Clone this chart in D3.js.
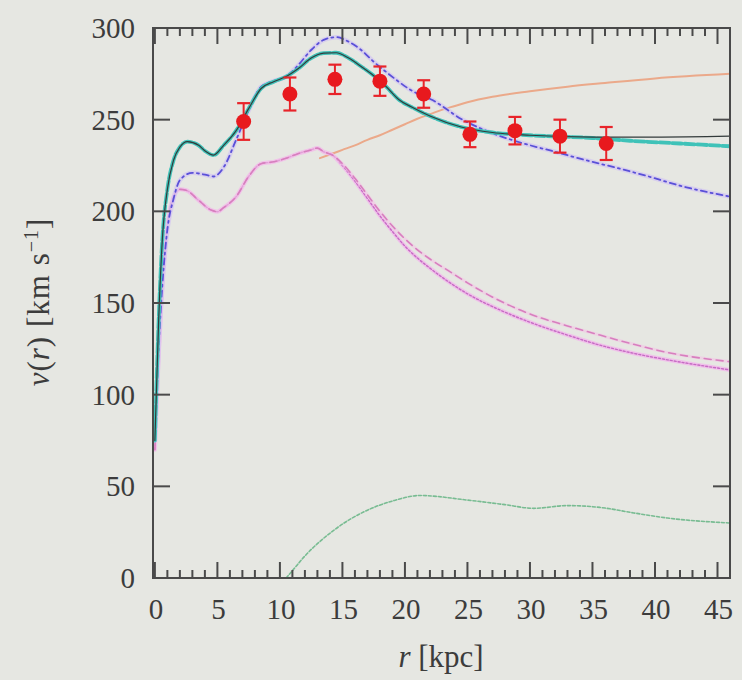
<!DOCTYPE html>
<html>
<head>
<meta charset="utf-8">
<script src="https://cdn.jsdelivr.net/npm/d3@7"></script>
<style>
  html, body { margin: 0; padding: 0; background: #e6e7e2; }
  svg { display: block; }
</style>
</head>
<body>
<svg id="chart" width="742" height="680"></svg>
<script>
// Rotation curve: model components and measured circular velocities.

// total model
const totalR = [0, 0.3, 0.6, 1, 1.5, 2, 2.6, 3.5, 4, 4.7, 5.5, 6.5, 7.5, 8.5, 9.5, 10.5, 11.5, 12.5, 13.5, 14.5, 15.5, 16.5, 17.5, 18.5, 19.5, 20.5, 22, 24.5, 27, 30, 35, 40, 46];
const totalV = [75, 140, 185, 212, 228, 235, 238, 236, 233, 230.7, 236, 244, 256, 267, 270.7, 273.5, 278, 283.6, 286.3, 286.5, 283.6, 279, 274, 268, 261, 257, 252, 246, 243, 241.5, 240.5, 240.5, 241];

// alternative fit (dashed cyan)
const fitR = [0, 0.3, 0.6, 1, 1.5, 2, 2.6, 3.5, 4, 4.7, 5.5, 6.5, 7.5, 8.5, 9.5, 10.5, 11.5, 12.5, 13.5, 14.5, 15.5, 16.5, 17.5, 18.5, 19.5, 20.5, 22, 24.5, 27, 30, 35, 38, 42, 46];
const fitV = [75, 140, 185, 212, 228, 235, 238, 236, 233, 230.7, 236, 244, 256, 267, 270.7, 273.5, 278, 283.6, 286.3, 286.5, 283.6, 279, 274, 268, 261, 257, 252, 246, 243, 241.5, 240, 238.5, 237, 235.5];

// blue dash-dot model
const blueR = [0, 0.3, 0.6, 1, 1.5, 2, 3, 4, 4.7, 5.5, 6.5, 7.5, 8.5, 9.5, 10.5, 11.5, 12.5, 13.5, 14.5, 15.5, 16.5, 17.5, 18.5, 19.5, 20.5, 22.2, 24.6, 27, 29.5, 32, 34.4, 37, 39.5, 42, 46];
const blueV = [75, 125, 160, 190, 207, 217, 221, 220, 219, 224, 239, 255, 268, 271, 273.5, 280, 288, 293.5, 295, 292.5, 288, 281.6, 276, 270.7, 266, 260.7, 250, 242.6, 237, 232.5, 228, 223.6, 219, 214, 208];

// baryonic components (magenta)
const baryR = [0, 0.3, 0.6, 1, 1.5, 2, 2.5, 3.5, 4.5, 5, 5.5, 6.5, 7.5, 8.5, 9.5, 10.5, 11.5, 12.5, 13, 13.5, 14.2, 15, 16, 17, 18, 19, 20, 21, 22, 23.5, 25, 27.5, 30.2, 33, 35.6, 38, 41, 46];
const baryDashV = [70, 120, 160, 192, 208, 212, 211.5, 206, 200.7, 199.8, 202, 208, 219, 226, 227, 229, 231.6, 233.5, 234.5, 232.5, 230.7, 226, 218, 209, 200, 192, 185, 179, 174, 167.5, 161, 151.5, 143.5, 137.5, 132.5, 128, 123, 118];
const baryDotV  = [70, 120, 160, 192, 208, 212, 211.5, 206, 200.7, 199.8, 202, 208, 219, 226, 227, 229, 231.6, 233.5, 234.5, 232.5, 230.7, 225, 216.5, 207, 197.5, 189, 181, 174.5, 169, 161.5, 155, 146.5, 139, 132.5, 127, 123, 119, 113.5];

// orange rising component
const orangeR = [13.2, 14, 15, 16, 17, 18, 19, 20, 21, 22, 23, 24, 25, 27, 30, 33, 36, 40, 46];
const orangeV = [229, 231, 233.5, 236, 239, 241.5, 244.5, 247.5, 250.5, 253, 255.5, 257.5, 259.5, 262.5, 265.5, 268, 270, 272.5, 275];

// green dotted component
const greenR = [10.5, 11, 12, 14.3, 17, 19, 21.2, 25, 28, 30.3, 33, 35.6, 38.3, 41, 46];
const greenV = [0, 4, 12, 26, 37, 42, 45, 42.5, 40, 38, 39.5, 38.5, 35.5, 32.7, 30];

// measurements
const obsR = [7.1, 10.8, 14.4, 18.0, 21.5, 25.2, 28.8, 32.4, 36.1];
const obsV = [249, 264, 272, 271, 264, 242, 244, 241, 237];
const obsErr = [10, 9, 8, 8, 7.5, 7, 7.5, 9, 9];

const xTicks = [0, 5, 10, 15, 20, 25, 30, 35, 40, 45];
const yTicks = [0, 50, 100, 150, 200, 250, 300];

const serif = "'Liberation Serif', 'DejaVu Serif', 'Noto Serif', Tinos, 'Times New Roman', Times, serif";

const svg = d3.select("#chart");
const mLeft = 153, mRight = 730, mTop = 28, mBottom = 578;

const x = d3.scaleLinear().domain([-0.15, 46]).range([mLeft, mRight]);
const y = d3.scaleLinear().domain([0, 300]).range([mBottom, mTop]);

const zip = (rs, vs) => rs.map((r, i) => [r, vs[i]]);
const line = d3.line().x(d => x(d[0])).y(d => y(d[1])).curve(d3.curveMonotoneX);

const plot = svg.append("g");
plot.append("defs").append("clipPath").attr("id", "clip")
  .append("rect").attr("x", mLeft).attr("y", mTop).attr("width", mRight - mLeft).attr("height", mBottom - mTop);
const curves = plot.append("g").attr("clip-path", "url(#clip)");

function drawCurve(data, opts) {
  curves.append("path")
    .datum(data)
    .attr("d", line)
    .attr("fill", "none")
    .attr("stroke", opts.color)
    .attr("stroke-width", opts.width)
    .attr("stroke-dasharray", opts.dash || null)
    .attr("stroke-opacity", opts.opacity || 1)
    .attr("stroke-linecap", "round");
}

// green component
drawCurve(zip(greenR, greenV), { color: "#78bc92", width: 1.6, dash: "3,2" });
// orange component
drawCurve(zip(orangeR, orangeV), { color: "#eba98a", width: 2 });
// magenta components
drawCurve(zip(baryR, baryDotV), { color: "#f2b8ec", width: 4, opacity: 0.8 });
drawCurve(zip(baryR, baryDotV), { color: "#c66ac4", width: 1.4, dash: "2,2" });
drawCurve(zip(baryR, baryDashV), { color: "#f3c4e6", width: 3.2, opacity: 0.6 });
drawCurve(zip(baryR, baryDashV), { color: "#d77fbe", width: 1.6, dash: "7,5" });
// blue dash-dot model
drawCurve(zip(blueR, blueV), { color: "#d2c4f2", width: 4.5, opacity: 0.7 });
drawCurve(zip(blueR, blueV), { color: "#5a50d8", width: 1.8, dash: "6,4,2,4" });
// cyan fit and total
drawCurve(zip(fitR, fitV), { color: "#3fc2b8", width: 3.8, dash: "10,2.5" });
drawCurve(zip(totalR, totalV), { color: "#333b3b", width: 1.2 });

// measured points with error bars
const obs = obsR.map((r, i) => ({ r, v: obsV[i], e: obsErr[i] }));
const pts = plot.append("g").selectAll("g").data(obs).join("g");
pts.append("line")
  .attr("x1", d => x(d.r)).attr("x2", d => x(d.r))
  .attr("y1", d => y(d.v - d.e)).attr("y2", d => y(d.v + d.e))
  .attr("stroke", "#e8242a").attr("stroke-width", 2);
pts.append("line")
  .attr("x1", d => x(d.r) - 6.5).attr("x2", d => x(d.r) + 6.5)
  .attr("y1", d => y(d.v + d.e)).attr("y2", d => y(d.v + d.e))
  .attr("stroke", "#e8242a").attr("stroke-width", 2.2);
pts.append("line")
  .attr("x1", d => x(d.r) - 6.5).attr("x2", d => x(d.r) + 6.5)
  .attr("y1", d => y(d.v - d.e)).attr("y2", d => y(d.v - d.e))
  .attr("stroke", "#e8242a").attr("stroke-width", 2.2);
pts.append("circle")
  .attr("cx", d => x(d.r)).attr("cy", d => y(d.v)).attr("r", 7.5)
  .attr("fill", "#e8191e");

// frame and ticks
const axisColor = "#4a4a4a";
const axes = svg.append("g");
axes.append("rect")
  .attr("x", mLeft).attr("y", mTop).attr("width", mRight - mLeft).attr("height", mBottom - mTop)
  .attr("fill", "none").attr("stroke", axisColor).attr("stroke-width", 2);

const minorX = d3.range(0, 46, 1).filter(v => v % 5 !== 0);

function tickLines(values, len, vertical) {
  values.forEach(v => {
    if (vertical) {
      const px = x(v);
      axes.append("line").attr("x1", px).attr("x2", px).attr("y1", mBottom).attr("y2", mBottom - len)
        .attr("stroke", axisColor).attr("stroke-width", 2);
      axes.append("line").attr("x1", px).attr("x2", px).attr("y1", mTop).attr("y2", mTop + len)
        .attr("stroke", axisColor).attr("stroke-width", 2);
    } else {
      const py = y(v);
      axes.append("line").attr("x1", mLeft).attr("x2", mLeft + len).attr("y1", py).attr("y2", py)
        .attr("stroke", axisColor).attr("stroke-width", 2);
      axes.append("line").attr("x1", mRight).attr("x2", mRight - len).attr("y1", py).attr("y2", py)
        .attr("stroke", axisColor).attr("stroke-width", 2);
    }
  });
}
tickLines(xTicks, 16, true);
tickLines(minorX, 8, true);
tickLines(yTicks, 17, false);

// tick labels
axes.selectAll("text.xt").data(xTicks).join("text")
  .attr("class", "xt")
  .attr("x", d => x(d) + 1).attr("y", 619)
  .attr("text-anchor", "middle")
  .attr("font-family", serif).attr("fill", "#3c3c3c")
  .attr("font-size", 29)
  .text(d => d);
axes.selectAll("text.yt").data(yTicks).join("text")
  .attr("class", "yt")
  .attr("x", 135).attr("y", d => y(d) + 10)
  .attr("text-anchor", "end")
  .attr("font-family", serif).attr("fill", "#3c3c3c")
  .attr("font-size", 29)
  .text(d => d);

// axis titles
const xt = axes.append("text").attr("x", 441).attr("y", 667).attr("text-anchor", "middle")
  .attr("font-family", serif).attr("fill", "#3c3c3c").attr("font-size", 31);
xt.append("tspan").attr("font-style", "italic").text("r");
xt.append("tspan").text(" [kpc]");

const yt = axes.append("text")
  .attr("transform", "translate(49,302) rotate(-90)")
  .attr("text-anchor", "middle")
  .attr("font-family", serif).attr("fill", "#3c3c3c").attr("font-size", 31)
  .attr("letter-spacing", 1);
yt.append("tspan").attr("font-style", "italic").text("v");
yt.append("tspan").text("(");
yt.append("tspan").attr("font-style", "italic").text("r");
yt.append("tspan").text(") [km s");
yt.append("tspan").attr("font-size", 20).attr("dy", -11).text("−1");
yt.append("tspan").attr("dy", 11).text("]");
</script>
</body>
</html>
